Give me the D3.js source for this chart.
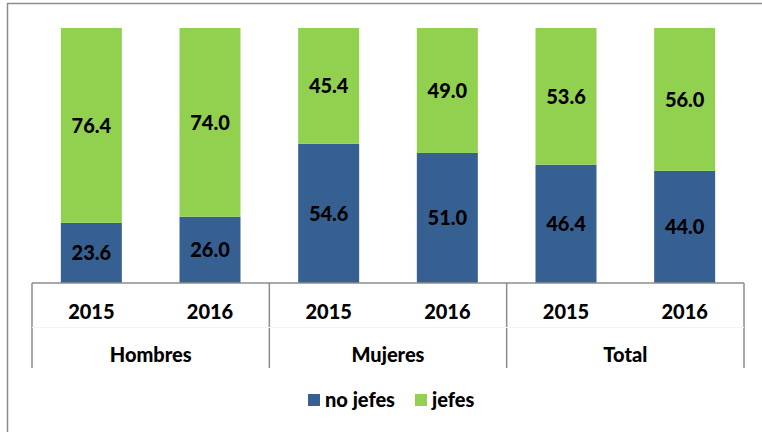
<!DOCTYPE html>
<html><head><meta charset="utf-8">
<script src="https://cdn.jsdelivr.net/npm/d3@7"></script>
<style>body{margin:0;background:#fff}svg{display:block}text{font-family:Lato,"Open Sans",sans-serif;font-weight:900;fill:#000}</style>
</head><body><svg id="c" width="762" height="432"></svg>
<script>
const groups = ["Hombres","Mujeres","Total"];
const years = ["2015","2016"];
const noJefes = [23.6, 26.0, 54.6, 51.0, 46.4, 44.0];
const jefes = [76.4, 74.0, 45.4, 49.0, 53.6, 56.0];
const seriesNames = ["no jefes","jefes"];
const colors = ["#376092","#92D050"];

const svg = d3.select("#c");
// outer frame
svg.append("rect").attr("x",7.5).attr("y",3.5).attr("width",800).attr("height",500)
  .attr("fill","none").attr("stroke","#8c8c8c").attr("stroke-width",1.5);

const keys = [];
groups.forEach(g=>years.forEach(y=>keys.push(g+"|"+y)));
const x = d3.scaleBand().domain(keys).range([32,744]).paddingInner(0.486).paddingOuter(0.243);
const y = d3.scaleLinear().domain([0,100]).range([283,28]);

const data = keys.map((k,i)=>({k, vals:[noJefes[i], jefes[i]]}));
const stack = d3.stack().keys([0,1]).value((d,key)=>d.vals[key]);
const stacked = stack(data);

stacked.forEach((s,si)=>{
  const g = svg.append("g");
  g.selectAll("rect").data(s).enter().append("rect")
    .attr("x",d=>x(d.data.k)).attr("width",x.bandwidth())
    .attr("y",d=>y(d[1])).attr("height",d=>y(d[0])-y(d[1]))
    .attr("fill",colors[si]);
  g.selectAll("text").data(s).enter().append("text")
    .attr("x",d=>x(d.data.k)+x.bandwidth()/2)
    .attr("y",d=>(y(d[0])+y(d[1]))/2)
    .attr("dy","0.36em").attr("text-anchor","middle")
    .style("font-size","20px")
    .text(d=>d.data.vals[si].toFixed(1));
});

// axis
const step = x.step();
const r0 = x.range()[0], r1 = x.range()[1];
const ax = svg.append("g").attr("stroke","#8c8c8c").attr("stroke-width",1.5);
ax.append("line").attr("x1",r0).attr("x2",r1).attr("y1",y(0)).attr("y2",y(0));
for(let i=0;i<=groups.length;i++){
  const xx = r0 + i*2*step;
  ax.append("line").attr("x1",xx).attr("x2",xx).attr("y1",y(0)).attr("y2",368);
}
svg.append("line").attr("x1",r0).attr("x2",r1).attr("y1",327.5).attr("y2",327.5)
  .attr("stroke","#f4f4f4").attr("stroke-width",1);

svg.append("g").selectAll("text").data(keys).enter().append("text")
  .attr("x",k=>x(k)+x.bandwidth()/2).attr("y",312).attr("dy","0.36em")
  .attr("text-anchor","middle").style("font-size","20px")
  .text(k=>k.split("|")[1]);
svg.append("g").selectAll("text").data(groups).enter().append("text")
  .attr("x",(g,i)=>r0 + (i*2+1)*step).attr("y",355).attr("dy","0.36em")
  .attr("text-anchor","middle").style("font-size","20px")
  .text(g=>g);

// legend
const leg = svg.append("g");
const legX = [308, 415];
seriesNames.forEach((n,i)=>{
  leg.append("rect").attr("x",legX[i]).attr("y",394).attr("width",12).attr("height",12).attr("fill",colors[i]);
  leg.append("text").attr("x",legX[i]+17).attr("y",400).attr("dy","0.36em").style("font-size","20px").text(n);
});
</script></body></html>
